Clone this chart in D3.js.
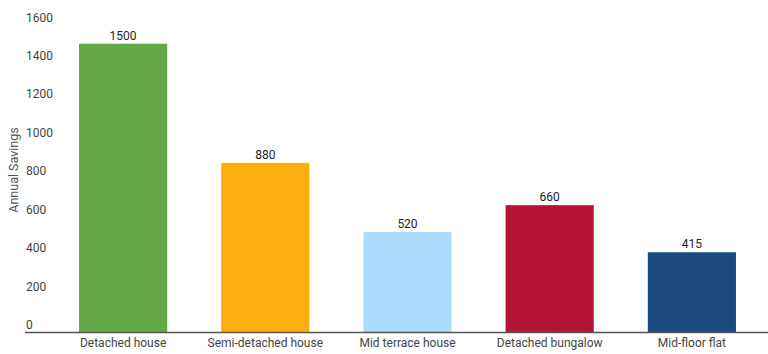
<!DOCTYPE html>
<html>
<head>
<meta charset="utf-8">
<script src="https://cdn.jsdelivr.net/npm/d3@7"></script>
<style>
  body { margin: 0; background: #fff; }
  svg { display: block; font-family: Roboto, "Noto Sans", sans-serif; }
</style>
</head>
<body>
<div id="chart"></div>
<script>
// data
const categories = ["Detached house", "Semi-detached house", "Mid terrace house", "Detached bungalow", "Mid-floor flat"];
const savings = [1500, 880, 520, 660, 415];
const barColors = ["#65a646", "#fdae0f", "#acdcfb", "#b41537", "#1a4a7e"];
const yTicks = [0, 200, 400, 600, 800, 1000, 1200, 1400, 1600];

const W = 768, H = 354;
const baseY = 332; // baseline of bars

const svg = d3.select("#chart").append("svg")
    .attr("width", W)
    .attr("height", H);

// X channel
const x = d3.scaleBand()
    .domain(categories)
    .range([25, 790])
    .paddingInner(0.38)
    .paddingOuter(0.38);

// Y channel
const y = d3.scaleLinear()
    .domain([0, 1600])
    .range([baseY, 24.5]);

// Bars
svg.selectAll(".bar")
    .data(categories)
    .enter()
    .append("rect")
    .attr("class", "bar")
    .attr("x", d => x(d))
    .attr("width", x.bandwidth())
    .attr("y", (d, i) => y(savings[i]))
    .attr("height", (d, i) => baseY - y(savings[i]))
    .style("fill", (d, i) => barColors[i]);

// value labels
svg.selectAll(".val")
    .data(categories)
    .enter()
    .append("text")
    .attr("class", "val")
    .attr("x", d => x(d) + x.bandwidth() / 2)
    .attr("y", (d, i) => y(savings[i]) - 4)
    .attr("text-anchor", "middle")
    .attr("font-size", "12px")
    .attr("fill", "#222")
    .text((d, i) => savings[i]);

// Y axis (labels only, sit above the tick position)
const yAxis = svg.append("g")
    .attr("class", "y_axis")
    .attr("transform", "translate(26,0)")
    .call(d3.axisRight(y).tickValues(yTicks).tickSize(0).tickPadding(0).tickFormat(d3.format("d")));
yAxis.select(".domain").remove();
yAxis.selectAll("text")
    .attr("dy", "-3.5px")
    .attr("font-size", "12px")
    .attr("font-family", "Roboto, 'Noto Sans', sans-serif")
    .attr("fill", "#444");

// X axis
const xAxis = svg.append("g")
    .attr("class", "x_axis")
    .attr("transform", "translate(0," + baseY + ")")
    .call(d3.axisBottom(x).tickSize(0).tickPadding(6));
xAxis.select(".domain").remove();
xAxis.selectAll("text")
    .attr("font-size", "12px")
    .attr("font-family", "Roboto, 'Noto Sans', sans-serif")
    .attr("fill", "#444");

svg.append("line")
    .attr("x1", 25)
    .attr("x2", W)
    .attr("y1", baseY + 0.5)
    .attr("y2", baseY + 0.5)
    .attr("stroke", "#555")
    .attr("stroke-width", 1.5);

// Y title
svg.append("text")
    .attr("transform", "translate(18,170) rotate(-90)")
    .attr("text-anchor", "middle")
    .attr("font-size", "12.5px")
    .attr("fill", "#555")
    .text("Annual Savings");
</script>
</body>
</html>
